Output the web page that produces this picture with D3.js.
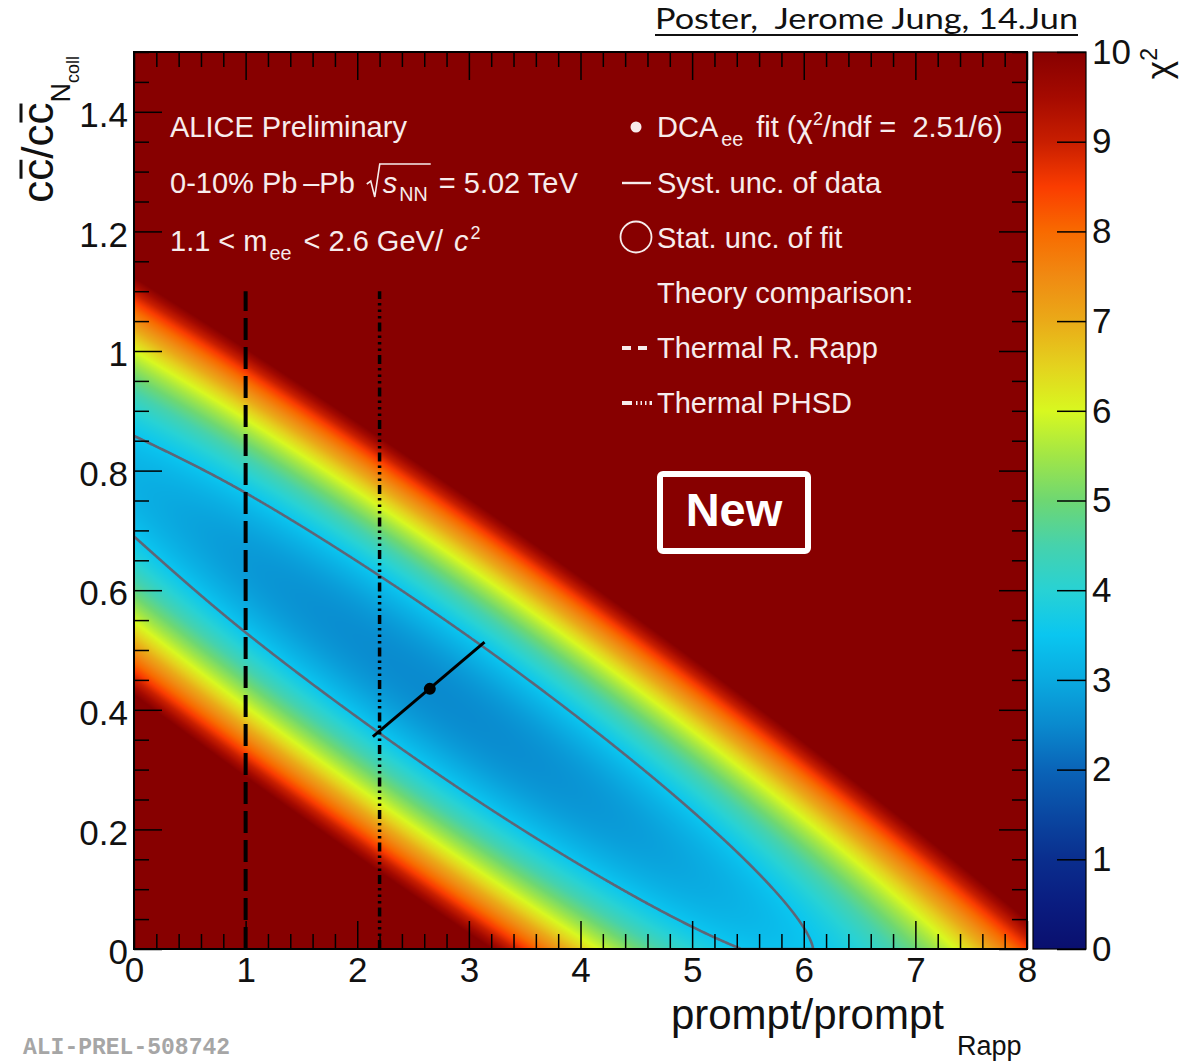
<!DOCTYPE html>
<html>
<head>
<meta charset="utf-8">
<title>χ² map: charm vs prompt scaling</title>
<script src="https://cdn.jsdelivr.net/npm/d3@7/dist/d3.min.js"></script>
<style>
  html, body { margin: 0; padding: 0; background: #ffffff; }
  svg { display: block; font-family: "Liberation Sans", Arial, Helvetica, sans-serif; }
  text { white-space: pre; }
</style>
</head>
<body>
<svg id="chart" width="1186" height="1061"></svg>
<script>
// ---------- data ----------
// χ² valley read column by column along prompt/prompt_Rapp:
// centre of the band, χ² at the bottom of the band, and the Δχ² = 1 half width
const bandX      = [0, 1, 2, 3, 4, 5, 6, 7, 8];
const bandCentre = [0.774, 0.646, 0.518, 0.390, 0.262, 0.134, 0.006, -0.122, -0.250];
const bandFloor  = [3.11, 2.74, 2.55, 2.52, 2.67, 2.98, 3.46, 4.12, 4.94];
const bandSigma  = [0.133, 0.133, 0.133, 0.133, 0.133, 0.133, 0.133, 0.133, 0.133];

// best fit and systematic uncertainty of the data
const fitPoint = [2.65, 0.435];
const chi2Min  = 2.51;
const ndf      = 6;
const systLow  = [2.14, 0.355];
const systHigh = [3.14, 0.513];

// theory expectations (vertical lines)
const rappX = 1.0;
const phsdX = 2.2;
const theoryTop = 1.1;

// axes
const xTicks = [0, 1, 2, 3, 4, 5, 6, 7, 8];
const yTicks = [0, 0.2, 0.4, 0.6, 0.8, 1.0, 1.2, 1.4];
const zTicks = [0, 1, 2, 3, 4, 5, 6, 7, 8, 9, 10];

// colour palette stops for χ²
const zStops  = [0, 0.5, 1, 1.5, 2, 2.5, 3, 3.5, 4, 4.5, 5, 5.5, 6, 6.5, 7, 7.5, 8, 8.5, 9, 9.5, 10];
const zColors = ["#0a0f6e", "#0a1c80", "#0a2e8e", "#0a48a2", "#0a64b8", "#0a8ace", "#0aaae0", "#0ac6f0",
                 "#28d2d4", "#46d2ac", "#6ed772", "#a2e646", "#d8f820", "#e4d21e", "#eaaa18", "#f08a12",
                 "#f86a00", "#fa3c00", "#c81e00", "#a50a00", "#870000"];

// ---------- layout ----------
const svg = d3.select("#chart");
const plot = { left: 134, right: 1027, top: 52, bottom: 949 };
const cbar = { left: 1033, right: 1086, top: 52, bottom: 949 };

const x = d3.scaleLinear().domain([0, 8]).range([plot.left, plot.right]);
const y = d3.scaleLinear().domain([0, 1.5]).range([plot.bottom, plot.top]);
const z = d3.scaleLinear().domain([0, 10]).range([cbar.bottom, cbar.top]);
const zColor = d3.scaleLinear().domain(zStops).range(zColors).clamp(true);

// smooth (Catmull-Rom) curve through the column readings
function smoothThrough(xs, ys) {
  const n = xs.length;
  const at = k => k < 0 ? 2 * ys[0] - ys[1] : k >= n ? 2 * ys[n - 1] - ys[n - 2] : ys[k];
  return xv => {
    let i = Math.max(0, Math.min(n - 2, d3.bisectRight(xs, xv) - 1));
    const t = (xv - xs[i]) / (xs[i + 1] - xs[i]);
    const p0 = at(i - 1), p1 = at(i), p2 = at(i + 1), p3 = at(i + 2);
    return 0.5 * (2 * p1 + (p2 - p0) * t + (2 * p0 - 5 * p1 + 4 * p2 - p3) * t * t
      + (3 * p1 - p0 - 3 * p2 + p3) * t * t * t);
  };
}
const floorAt  = smoothThrough(bandX, bandFloor);
const centreAt = smoothThrough(bandX, bandCentre);
const sigmaAt  = smoothThrough(bandX, bandSigma);

// ---------- χ² surface ----------
const pw = plot.right - plot.left, ph = plot.bottom - plot.top;
const grid = new Float64Array(pw * ph);
for (let i = 0; i < pw; i++) {
  const xv = x.invert(plot.left + i + 0.5);
  const f = floorAt(xv), c = centreAt(xv), s = sigmaAt(xv);
  for (let j = 0; j < ph; j++) {
    const yv = y.invert(plot.top + j + 0.5);
    const d = (yv - c) / s;
    grid[j * pw + i] = f + d * d;
  }
}

const lut = d3.range(1001).map(k => d3.rgb(zColor(k / 100)));
const canvas = document.createElement("canvas");
canvas.width = pw; canvas.height = ph;
const ctx = canvas.getContext("2d");
const img = ctx.createImageData(pw, ph);
for (let p = 0; p < pw * ph; p++) {
  const v = Math.max(0, Math.min(10, grid[p]));
  const c = lut[Math.round(v * 100)];
  img.data[4 * p] = c.r; img.data[4 * p + 1] = c.g; img.data[4 * p + 2] = c.b; img.data[4 * p + 3] = 255;
}
ctx.putImageData(img, 0, 0);

const defs = svg.append("defs");
defs.append("clipPath").attr("id", "plotclip")
  .append("rect").attr("x", plot.left).attr("y", plot.top).attr("width", pw).attr("height", ph);

svg.append("image")
  .attr("x", plot.left).attr("y", plot.top).attr("width", pw).attr("height", ph)
  .attr("preserveAspectRatio", "none")
  .attr("href", canvas.toDataURL());

// Δχ² = 1 contour (statistical uncertainty of the fit)
const negGrid = Array.from(grid, v => -v);
const contour = d3.contours().size([pw, ph]).thresholds([-(chi2Min + 1)])(negGrid);
svg.append("g").attr("clip-path", "url(#plotclip)")
  .selectAll("path").data(contour).join("path")
  .attr("d", d3.geoPath(d3.geoIdentity().translate([plot.left, plot.top])))
  .attr("fill", "none").attr("stroke", "#5e6677").attr("stroke-width", 2.6);

// ---------- theory lines ----------
svg.append("line")
  .attr("x1", x(rappX)).attr("x2", x(rappX)).attr("y1", y(0)).attr("y2", y(theoryTop))
  .attr("stroke", "#000").attr("stroke-width", 4).attr("stroke-dasharray", "22 7");
svg.append("line")
  .attr("x1", x(phsdX)).attr("x2", x(phsdX)).attr("y1", y(0)).attr("y2", y(theoryTop))
  .attr("stroke", "#000").attr("stroke-width", 3.5).attr("stroke-dasharray", "9 4 2.5 4 2.5 4 2.5 4");

// ---------- fit point with syst. unc. ----------
svg.append("line")
  .attr("x1", x(systLow[0])).attr("y1", y(systLow[1]))
  .attr("x2", x(systHigh[0])).attr("y2", y(systHigh[1]))
  .attr("stroke", "#000").attr("stroke-width", 3);
svg.append("circle")
  .attr("cx", x(fitPoint[0])).attr("cy", y(fitPoint[1])).attr("r", 6).attr("fill", "#000");

// ---------- frame and ticks ----------
const xMinor = d3.range(0, 8.0001, 0.2).filter(v => Math.abs(v - Math.round(v)) > 1e-6);
const yMinor = d3.range(0, 1.5001, 0.05).filter(v => Math.abs(v / 0.2 - Math.round(v / 0.2)) > 1e-6);
const fmtY = d => String(+d.toFixed(1));

function styleAxis(g) {
  g.select(".domain").remove();
  g.selectAll(".tick line").attr("stroke", "#000").attr("stroke-width", 1.5);
  g.selectAll("text").attr("font-family", "Liberation Sans, Arial, sans-serif")
    .attr("font-size", 35).attr("fill", "#111");
}

svg.append("g").attr("transform", `translate(0,${plot.bottom})`)
  .call(d3.axisBottom(x).tickValues(xTicks).tickSizeInner(-28).tickSizeOuter(0).tickPadding(8).tickFormat(d3.format("d")))
  .call(styleAxis);
svg.append("g").attr("transform", `translate(0,${plot.bottom})`)
  .call(d3.axisBottom(x).tickValues(xMinor).tickSizeInner(-15).tickSizeOuter(0).tickFormat(""))
  .call(styleAxis);
svg.append("g").attr("transform", `translate(0,${plot.top})`)
  .call(d3.axisTop(x).tickValues(xTicks).tickSizeInner(-28).tickSizeOuter(0).tickFormat(""))
  .call(styleAxis);
svg.append("g").attr("transform", `translate(0,${plot.top})`)
  .call(d3.axisTop(x).tickValues(xMinor).tickSizeInner(-15).tickSizeOuter(0).tickFormat(""))
  .call(styleAxis);

const gyL = svg.append("g").attr("transform", `translate(${plot.left},0)`)
  .call(d3.axisLeft(y).tickValues(yTicks).tickSizeInner(-28).tickSizeOuter(0).tickPadding(6).tickFormat(fmtY))
  .call(styleAxis);
gyL.selectAll("text").attr("dy", "0.42em");
svg.append("g").attr("transform", `translate(${plot.left},0)`)
  .call(d3.axisLeft(y).tickValues(yMinor).tickSizeInner(-15).tickSizeOuter(0).tickFormat(""))
  .call(styleAxis);
svg.append("g").attr("transform", `translate(${plot.right},0)`)
  .call(d3.axisRight(y).tickValues(yTicks).tickSizeInner(-28).tickSizeOuter(0).tickFormat(""))
  .call(styleAxis);
svg.append("g").attr("transform", `translate(${plot.right},0)`)
  .call(d3.axisRight(y).tickValues(yMinor).tickSizeInner(-15).tickSizeOuter(0).tickFormat(""))
  .call(styleAxis);

svg.append("rect")
  .attr("x", plot.left).attr("y", plot.top).attr("width", pw).attr("height", ph)
  .attr("fill", "none").attr("stroke", "#000").attr("stroke-width", 2);

// ---------- colour bar ----------
const grad = defs.append("linearGradient").attr("id", "zgrad")
  .attr("x1", 0).attr("y1", 1).attr("x2", 0).attr("y2", 0);
grad.selectAll("stop").data(zStops).join("stop")
  .attr("offset", d => d / 10).attr("stop-color", (d, i) => zColors[i]);
svg.append("rect")
  .attr("x", cbar.left).attr("y", cbar.top)
  .attr("width", cbar.right - cbar.left).attr("height", cbar.bottom - cbar.top)
  .attr("fill", "url(#zgrad)").attr("stroke", "#000").attr("stroke-width", 1.2);
svg.append("g").attr("transform", `translate(${cbar.right},0)`)
  .call(d3.axisRight(z).tickValues(zTicks).tickSizeInner(-29).tickSizeOuter(0).tickPadding(6).tickFormat(d3.format("d")))
  .call(styleAxis);

// χ² title of the colour bar
const zt = svg.append("text")
  .attr("transform", "translate(1171,48) rotate(-90)")
  .attr("text-anchor", "end").attr("font-size", 35).attr("fill", "#111");
zt.append("tspan").text("χ");
zt.append("tspan").attr("font-size", 23).attr("dy", -14).text("2");

// ---------- axis titles ----------
const xt = svg.append("g").attr("fill", "#111");
xt.append("text").attr("x", 944).attr("y", 1029).attr("text-anchor", "end")
  .attr("font-size", 42).text("prompt/prompt");
xt.append("text").attr("x", 957).attr("y", 1055).attr("font-size", 27).text("Rapp");

const ytG = svg.append("g").attr("transform", "translate(53,56) rotate(-90)");
const yt = ytG.append("text").attr("text-anchor", "end").attr("fill", "#111").attr("font-size", 44);
yt.append("tspan").text("cc/cc");
yt.append("tspan").attr("font-size", 27).attr("dy", 17).text("N");
yt.append("tspan").attr("font-size", 18).attr("dy", 9).text("coll");
[1, 4].forEach(k => {
  const e = yt.node().getExtentOfChar(k);
  ytG.append("line")
    .attr("x1", e.x + 2).attr("x2", e.x + e.width - 1)
    .attr("y1", -32).attr("y2", -32)
    .attr("stroke", "#111").attr("stroke-width", 3);
});

// ---------- rich text helper (sub/superscripts placed by measured width) ----------
const inkColor = "#f7ecec";
function rich(g, x0, yb, parts, base) {
  let cx = x0;
  parts.forEach(p => {
    if (p.skip) { cx += p.skip; return; }
    const t = g.append("text")
      .attr("x", cx).attr("y", yb + (p.shift || 0))
      .attr("font-size", base * (p.scale || 1))
      .attr("font-style", p.italic ? "italic" : null)
      .attr("fill", inkColor)
      .text(p.t);
    cx += t.node().getComputedTextLength();
  });
  return { end: cx };
}

// left-hand block
const info = svg.append("g");
rich(info, 170, 137, [{ t: "ALICE Preliminary" }], 29);
const r2a = rich(info, 170, 193, [{ t: "0-10% Pb\u2009\u2013Pb" }], 29);
const rootX = r2a.end + 14;
const r2b = rich(info, rootX + 14, 193, [
  { t: "s", italic: true },
  { skip: 2 },
  { t: "NN", scale: 0.68, shift: 8 },
  { skip: 3 }
], 29);
info.append("path")
  .attr("d", `M${rootX - 2},${193 - 9} L${rootX + 2},${193 - 12} L${rootX + 6},${193 + 4} L${rootX + 11},${193 - 29} L${r2b.end},${193 - 29}`)
  .attr("fill", "none").attr("stroke", inkColor).attr("stroke-width", 1.6);
rich(info, r2b.end, 193, [{ t: " = 5.02 TeV" }], 29);
rich(info, 170, 251, [
  { t: "1.1 < m" },
  { skip: 2 },
  { t: "ee", scale: 0.68, shift: 9 },
  { skip: 4 },
  { t: " < 2.6 GeV/ " },
  { skip: 3 },
  { t: "c", italic: true },
  { skip: 2 },
  { t: "2", scale: 0.62, shift: -12 }
], 29);

// legend block
const leg = svg.append("g");
const legX = 657;
const rowY = [137, 193, 248, 303, 358, 413];
rich(leg, legX, rowY[0], [
  { t: "DCA" },
  { skip: 3 },
  { t: "ee", scale: 0.68, shift: 9 },
  { skip: 5 },
  { t: " fit (" },
  { t: "χ", scale: 1.08 },
  { t: "2", scale: 0.62, shift: -12 },
  { t: `/ndf =  ${chi2Min.toFixed(2)}/${ndf})` }
], 29);
rich(leg, legX, rowY[1], [{ t: "Syst. unc. of data" }], 29);
rich(leg, legX, rowY[2], [{ t: "Stat. unc. of fit" }], 29);
rich(leg, legX, rowY[3], [{ t: "Theory comparison:" }], 29);
rich(leg, legX, rowY[4], [{ t: "Thermal R. Rapp" }], 29);
rich(leg, legX, rowY[5], [{ t: "Thermal PHSD" }], 29);

leg.append("circle").attr("cx", 636).attr("cy", rowY[0] - 10).attr("r", 5.5).attr("fill", inkColor);
leg.append("line").attr("x1", 622).attr("x2", 651).attr("y1", rowY[1] - 10).attr("y2", rowY[1] - 10)
  .attr("stroke", inkColor).attr("stroke-width", 2.4);
leg.append("circle").attr("cx", 636).attr("cy", rowY[2] - 11).attr("r", 15.5)
  .attr("fill", "none").attr("stroke", inkColor).attr("stroke-width", 1.8);
leg.append("line").attr("x1", 622).attr("x2", 652).attr("y1", rowY[4] - 10).attr("y2", rowY[4] - 10)
  .attr("stroke", inkColor).attr("stroke-width", 4).attr("stroke-dasharray", "9 7");
leg.append("line").attr("x1", 622).attr("x2", 652).attr("y1", rowY[5] - 10).attr("y2", rowY[5] - 10)
  .attr("stroke", inkColor).attr("stroke-width", 4).attr("stroke-dasharray", "10 4 1.5 3 1.5 3 1.5 3");

// "New" badge
svg.append("rect").attr("x", 660).attr("y", 474).attr("width", 148).attr("height", 77).attr("rx", 3)
  .attr("fill", "none").attr("stroke", "#ffffff").attr("stroke-width", 6);
svg.append("text").attr("x", 734).attr("y", 526).attr("text-anchor", "middle")
  .attr("font-size", 47).attr("font-weight", "bold").attr("fill", "#ffffff").text("New");

// ---------- page annotations ----------
svg.append("text").attr("x", 655).attr("y", 29)
  .attr("font-family", "Lato, 'Open Sans', sans-serif").attr("font-size", 28.5).attr("fill", "#111")
  .attr("textLength", 423).attr("lengthAdjust", "spacingAndGlyphs")
  .text("Poster,  Jerome Jung, 14.Jun");
svg.append("line").attr("x1", 655).attr("x2", 1078).attr("y1", 35).attr("y2", 35)
  .attr("stroke", "#111").attr("stroke-width", 2);

svg.append("text").attr("x", 23).attr("y", 1054)
  .attr("font-family", "'Liberation Mono', 'DejaVu Sans Mono', monospace")
  .attr("font-weight", "bold").attr("font-size", 23).attr("fill", "#a6a6a6")
  .text("ALI-PREL-508742");
</script>
</body>
</html>
